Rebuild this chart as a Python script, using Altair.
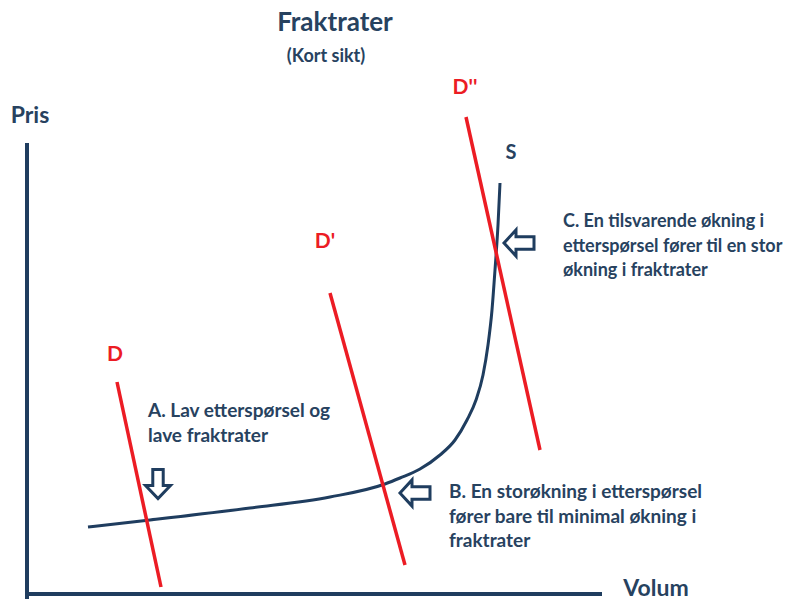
import altair as alt
import pandas as pd

# Coordinate system: volum to the right, pris upwards, origin at the axis corner
X_DOMAIN = [-27, 771]
Y_DOMAIN = [-8, 594]

NAVY = "#1f3d5f"
TEXT = "#27425f"
RED = "#ec1c24"
FONT = "Lato"

# Short-run supply curve S (flat at first, then nearly vertical near capacity)
s_volum = [61, 123, 223, 303, 358, 373, 393, 413, 428, 440, 449, 456, 461, 465, 468, 471, 473]
s_pris = [67, 74, 86, 97, 110, 116, 125, 139, 154, 174, 194, 219, 249, 284, 324, 369, 411]

# Demand curves D, D', D'' (start and end points)
d_names = ["D", "D", "D'", "D'", "D''", "D''"]
d_volum = [90, 134, 303, 378, 439, 513]
d_pris = [212, 7, 301, 29, 477, 144]

# Demand labels
dl_text = ["D", "D'", "D''"]
dl_volum = [88, 298, 438]
dl_pris = [239, 352, 506]

# Axis lines
ax_id = ["y", "y", "x", "x"]
ax_volum = [0, 0, 0, 573]
ax_pris = [-3, 449, 0, 0]

# Annotation lines (left aligned)
note_text = [
    "A. Lav etterspørsel og", "lave fraktrater",
    "B. En storøkning i etterspørsel", "fører bare til minimal økning i", "fraktrater",
    "C. En tilsvarende økning i", "etterspørsel fører til en stor", "økning i fraktrater",
]
note_volum = [121, 121, 422, 422, 422, 536, 536, 536]
note_pris = [183, 158, 102, 77, 53, 372, 347, 323]
note_size = [19, 19, 19, 19, 19, 18, 18, 18]

# Arrows pointing at the three equilibria
arrow_dir = ["down", "left", "left"]
arrow_volum = [131, 388, 492]
arrow_pris = [110, 101, 351]

x = lambda: alt.X("volum:Q", scale=alt.Scale(domain=X_DOMAIN, nice=False, zero=False), axis=None)
y = lambda: alt.Y("pris:Q", scale=alt.Scale(domain=Y_DOMAIN, nice=False, zero=False), axis=None)

axes = alt.Chart(pd.DataFrame({"id": ax_id, "volum": ax_volum, "pris": ax_pris})).mark_line(
    color=NAVY, strokeWidth=4, strokeCap="square"
).encode(x=x(), y=y(), detail="id:N")

supply = alt.Chart(pd.DataFrame({"volum": s_volum, "pris": s_pris})).mark_line(
    color=NAVY, strokeWidth=3, interpolate="monotone"
).encode(x=x(), y=y(), order="volum:Q")

demand = alt.Chart(pd.DataFrame({"name": d_names, "volum": d_volum, "pris": d_pris})).mark_line(
    color=RED, strokeWidth=3.5
).encode(x=x(), y=y(), detail="name:N")

demand_labels = alt.Chart(pd.DataFrame({"t": dl_text, "volum": dl_volum, "pris": dl_pris})).mark_text(
    color=RED, font=FONT, fontSize=21, fontWeight="bold", align="center", baseline="middle"
).encode(x=x(), y=y(), text="t:N")

titles = alt.Chart(pd.DataFrame({
    "t": ["Fraktrater", "(Kort sikt)", "Pris", "Volum", "S"],
    "volum": [308, 299, 3, 629, 484],
    "pris": [571, 537, 478, 5, 441],
    "fs": [26, 18, 23, 23, 20],
})).mark_text(
    color=TEXT, font=FONT, fontWeight="bold", align="center", baseline="middle"
).encode(x=x(), y=y(), text="t:N", size=alt.Size("fs:Q", scale=None))

notes = alt.Chart(pd.DataFrame({
    "t": note_text, "volum": note_volum, "pris": note_pris, "fs": note_size
})).mark_text(
    color=TEXT, font=FONT, fontWeight="bold", align="left", baseline="middle"
).encode(x=x(), y=y(), text="t:N", size=alt.Size("fs:Q", scale=None))

arrows_df = pd.DataFrame({"dir": arrow_dir, "volum": arrow_volum, "pris": arrow_pris})
down_shape = "M-0.36,-1L0.36,-1L0.36,0.1L0.86,0.1L0,1L-0.86,0.1L-0.36,0.1Z"
left_shape = "M-1,0L-0.2,-0.87L-0.2,-0.42L1,-0.42L1,0.42L-0.2,0.42L-0.2,0.87Z"

arrow_down = alt.Chart(arrows_df).transform_filter(alt.datum.dir == "down").mark_point(
    shape=down_shape, size=840, filled=False, stroke=NAVY, strokeWidth=3, fill="white", opacity=1
).encode(x=x(), y=y())

arrow_left = alt.Chart(arrows_df).transform_filter(alt.datum.dir == "left").mark_point(
    shape=left_shape, size=900, filled=False, stroke=NAVY, strokeWidth=3, fill="white", opacity=1
).encode(x=x(), y=y())

chart = alt.layer(
    axes, supply, demand, demand_labels, titles, notes, arrow_down, arrow_left
).properties(
    width=798, height=602, padding=0, autosize=alt.AutoSizeParams(type="none"),
    background="white"
).configure_view(stroke=None)

chart.save("out.html", embed_options={"renderer": "svg", "actions": False})
